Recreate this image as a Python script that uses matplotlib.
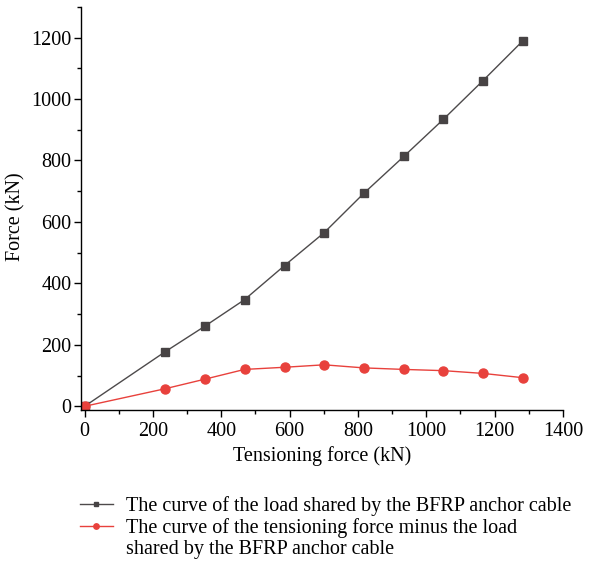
import numpy as np
import matplotlib
matplotlib.use("Agg")
import matplotlib.pyplot as plt
from matplotlib.lines import Line2D
from matplotlib.ticker import MultipleLocator

# tensioning force steps (kN)
tension = [0, 235, 351, 468, 585, 701, 817, 934, 1050, 1166, 1283]
# load carried by the BFRP anchor cable (kN)
cable_load = [0, 177, 260, 347, 458, 565, 693, 813, 934, 1060, 1190]
# tensioning force minus the cable load (kN)
remainder = [0, 57, 88, 120, 127, 135, 125, 120, 116, 107, 93]

plt.rcParams['font.family'] = ['Liberation Serif', 'DejaVu Serif']
plt.rcParams['font.size'] = 14.5
plt.rcParams['axes.linewidth'] = 1

fig = plt.figure(figsize=(6.06, 5.71), dpi=100)
ax = fig.add_axes([0.134, 0.282, 0.795, 0.706])

l1, = ax.plot(tension, cable_load, color='#4d4a4b', lw=1, marker='s', ms=5.8,
              mfc='#474344', mec='#474344')
l2, = ax.plot(tension, remainder, color='#e8413c', lw=1, marker='o', ms=6.5,
              mfc='#e8413c', mec='#e8413c')

ax.set_xlim(-10, 1400)
ax.set_ylim(-12, 1300)
ax.xaxis.set_major_locator(MultipleLocator(200))
ax.xaxis.set_minor_locator(MultipleLocator(100))
ax.yaxis.set_major_locator(MultipleLocator(200))
ax.yaxis.set_minor_locator(MultipleLocator(100))
ax.tick_params(which='major', direction='out', length=5, width=1)
ax.tick_params(which='minor', direction='out', length=3, width=1)
ax.tick_params(axis='y', pad=2)
ax.spines['top'].set_visible(False)
ax.spines['right'].set_visible(False)

ax.set_xlabel('Tensioning force (kN)', fontsize=14.5, labelpad=4)
ax.set_ylabel('Force (kN)', fontsize=14.5)
ax.yaxis.set_label_coords(-0.115, 0.48)

# wrapped second label: blank handle for the continuation line
blank = Line2D([], [], linestyle='none', marker=None)
fig.legend([l1, l2, blank],
           ['The curve of the load shared by the BFRP anchor cable',
            'The curve of the tensioning force minus the load',
            'shared by the BFRP anchor cable'],
           loc='upper left', bbox_to_anchor=(0.118, 0.145), frameon=False,
           fontsize=14.5, handlelength=1.65, handletextpad=0.65,
           labelspacing=0.1, borderaxespad=0, markerscale=0.6)

fig.savefig('out.png', dpi=100)
